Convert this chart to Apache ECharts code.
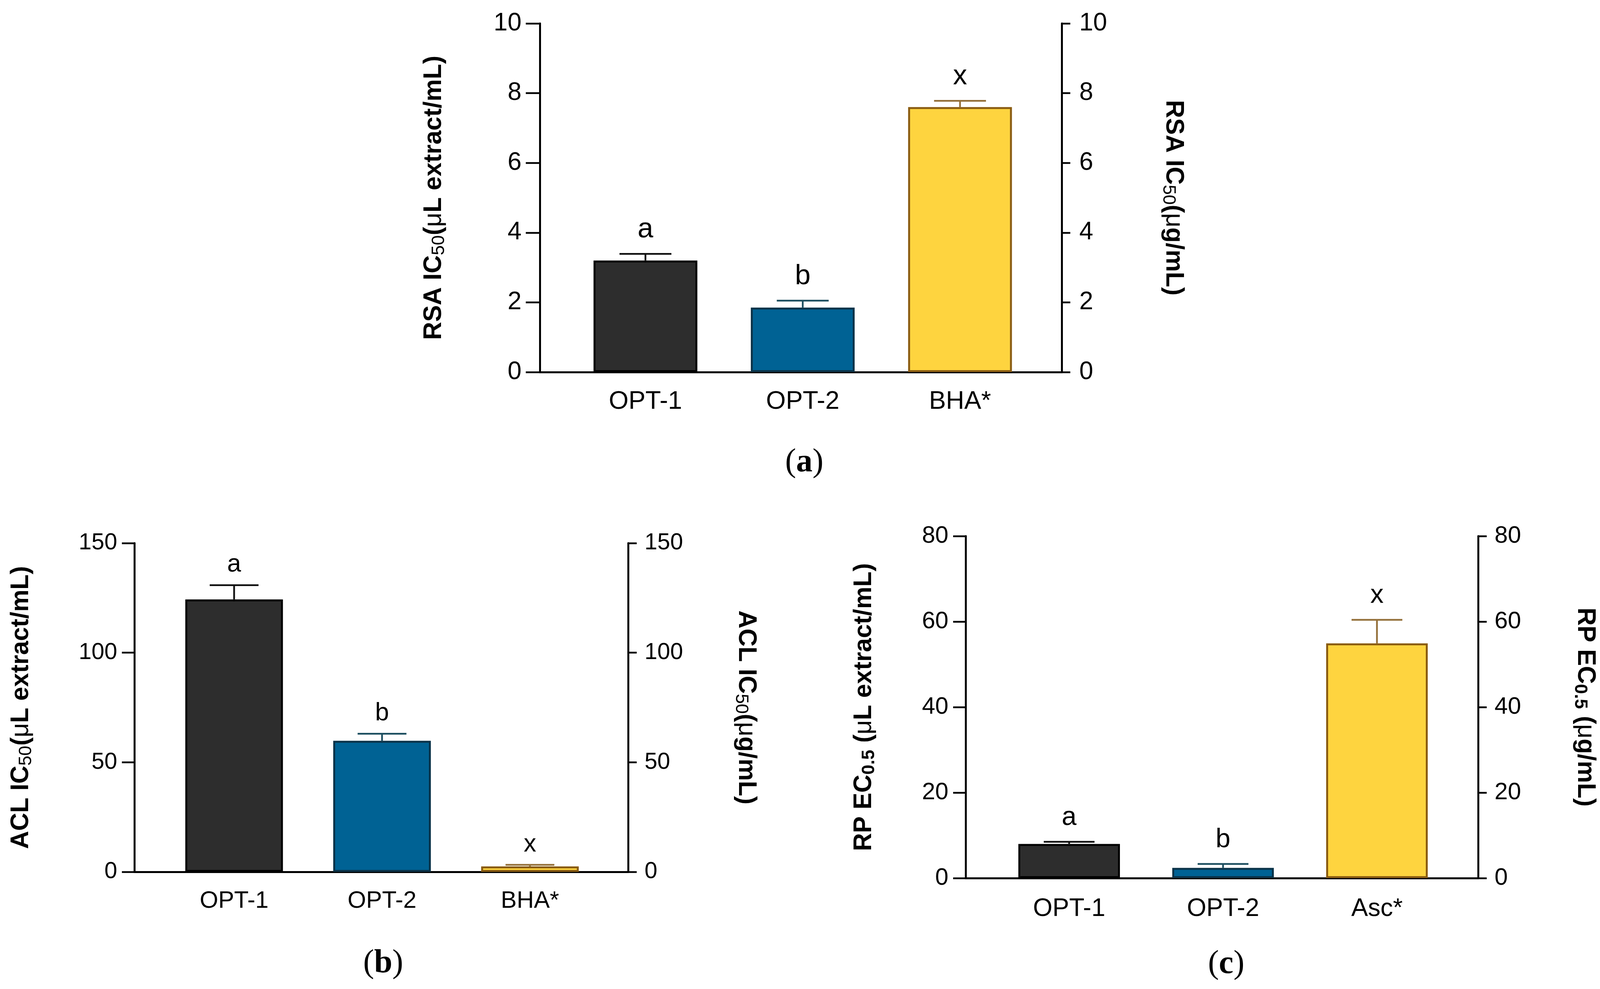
<!DOCTYPE html>
<html><head><meta charset="utf-8">
<script src="https://cdn.jsdelivr.net/npm/echarts@6/dist/echarts.min.js"></script>
<style>html,body{margin:0;padding:0;background:#fff}#c{width:4121px;height:2533px}</style>
</head><body><div id="c"></div>
<script>
// ---------- DATA ----------
const catsA = ['OPT-1', 'OPT-2', 'BHA*'];
const meansA = [3.2, 1.85, 7.6];
const errsA = [0.19, 0.2, 0.18];
const lettersA = ['a', 'b', 'x'];
const ticksA = [0, 2, 4, 6, 8, 10];

const catsB = ['OPT-1', 'OPT-2', 'BHA*'];
const meansB = [124.3, 59.8, 2.5];
const errsB = [6.5, 3.2, 0.7];
const lettersB = ['a', 'b', 'x'];
const ticksB = [0, 50, 100, 150];

const catsC = ['OPT-1', 'OPT-2', 'Asc*'];
const meansC = [8.0, 2.4, 54.9];
const errsC = [0.5, 0.9, 5.5];
const lettersC = ['a', 'b', 'x'];
const ticksC = [0, 20, 40, 60, 80];

// ---------- STYLE ----------
const FONT = 'Liberation Sans';
const fills = ['#2d2d2d', '#006294', '#fed43f'];
const borders = ['#000000', '#0b3349', '#8a5c12'];
const errColors = ['#111111', '#1d4f60', '#94703a'];

const panels = [
  { cats: catsA, means: meansA, errs: errsA, letters: lettersA, ticks: ticksA,
    box: { left: 1382, top: 60, width: 1336, height: 893 }, barLeft: 1451, barWidth: 1208,
    tickFont: 64, tickL: 36, marginL: 47, tickR: 22, marginR: 45,
    catFont: 65, catMargin: 44, letterFont: 72, letterGap: 62,
    nameL: ['RSA IC', '50', '(μL extract/mL)'], nameR: ['RSA IC', '50', '(μg/mL)'], subWeight: 'normal',
    gapL: 235, gapR: 250, tag: ['a', 2059, 1185] },
  { cats: catsB, means: meansB, errs: errsB, letters: lettersB, ticks: ticksB,
    box: { left: 344, top: 1391, width: 1264, height: 842 }, barLeft: 410, barWidth: 1136,
    tickFont: 59, tickL: 32, marginL: 44, tickR: 22, marginR: 42,
    catFont: 61, catMargin: 45, letterFont: 64, letterGap: 52,
    nameL: ['ACL IC', '50', '(μL extract/mL)'], nameR: ['ACL IC', '50', '(μg/mL)'], subWeight: 'normal',
    gapL: 254, gapR: 266, tag: ['b', 981, 2468] },
  { cats: catsC, means: meansC, errs: errsC, letters: lettersC, ticks: ticksC,
    box: { left: 2472, top: 1373, width: 1312, height: 876 }, barLeft: 2540, barWidth: 1182,
    tickFont: 61, tickL: 32, marginL: 44, tickR: 22, marginR: 42,
    catFont: 64, catMargin: 47, letterFont: 68, letterGap: 62,
    nameL: ['RP EC', '0.5', ' (μL extract/mL)'], nameR: ['RP EC', '0.5', ' (μg/mL)'], subWeight: 'bold',
    gapL: 224, gapR: 238, tag: ['c', 3139, 2470] }
];

function richName(parts) {
  const esc = s => s.split('μ').map(x => x ? '{t|' + x + '}' : '').join('{u|μ}');
  return esc(parts[0]) + '{s|' + parts[1] + '}' + esc(parts[2]);
}
function nameStyle(p) {
  return {
    color: '#000', fontFamily: FONT, fontWeight: 'bold', fontSize: 64,
    rich: {
      t: { fontFamily: FONT, fontWeight: 'bold', fontSize: 64, lineHeight: 72, color: '#000' },
      u: { fontFamily: FONT, fontWeight: 'normal', fontSize: 64, lineHeight: 72, color: '#000' },
      s: { fontFamily: FONT, fontWeight: p.subWeight, fontSize: 46, lineHeight: 34, verticalAlign: 'bottom', color: '#000' }
    }
  };
}

const option = { animation: false, backgroundColor: '#ffffff', grid: [], xAxis: [], yAxis: [], series: [], graphic: [] };

panels.forEach(p => {
  const g = option.grid.length;
  option.grid.push({ left: p.box.left, top: p.box.top, width: p.box.width, height: p.box.height, containLabel: false, outerBoundsMode: 'none' });
  option.grid.push({ left: p.barLeft, top: p.box.top, width: p.barWidth, height: p.box.height, containLabel: false, outerBoundsMode: 'none' });
  const ymin = p.ticks[0], ymax = p.ticks[p.ticks.length - 1], step = p.ticks[1] - p.ticks[0];
  const xi = option.xAxis.length;
  option.xAxis.push({ gridIndex: g, type: 'value', min: 0, max: 1, axisLine: { show: true, onZero: false, lineStyle: { color: '#000', width: 5 } },
    axisTick: { show: false }, axisLabel: { show: false }, splitLine: { show: false } });
  option.xAxis.push({ gridIndex: g + 1, type: 'category', data: p.cats, axisLine: { show: false }, axisTick: { show: false },
    axisLabel: { interval: 0, color: '#000', fontFamily: FONT, fontSize: p.catFont, lineHeight: p.catFont, margin: p.catMargin }, splitLine: { show: false } });
  const yi = option.yAxis.length;
  const yCommon = { gridIndex: g, type: 'value', min: ymin, max: ymax, interval: step, splitLine: { show: false },
    axisLine: { show: true, lineStyle: { color: '#000', width: 5 } }, nameLocation: 'middle', nameTextStyle: nameStyle(p) };
  option.yAxis.push(Object.assign({}, yCommon, { position: 'left',
    axisTick: { show: true, length: p.tickL, lineStyle: { color: '#000', width: 4.5 } },
    axisLabel: { color: '#000', fontFamily: FONT, fontSize: p.tickFont, margin: p.marginL },
    name: richName(p.nameL), nameGap: p.gapL }));
  option.yAxis.push(Object.assign({}, yCommon, { position: 'right',
    axisTick: { show: true, length: p.tickR, lineStyle: { color: '#000', width: 4.5 } },
    axisLabel: { color: '#000', fontFamily: FONT, fontSize: p.tickFont, margin: p.marginR },
    name: richName(p.nameR), nameGap: p.gapR, nameRotate: -90 }));
  option.yAxis.push({ gridIndex: g + 1, type: 'value', min: ymin, max: ymax, show: false });

  option.series.push({ type: 'bar', xAxisIndex: xi + 1, yAxisIndex: yi + 2, barWidth: '66%',
    data: p.means.map((v, i) => ({ value: v, itemStyle: { color: fills[i], borderColor: borders[i], borderWidth: 5 } })) });

  const letters = p.letters;
  option.series.push({ type: 'custom', xAxisIndex: xi + 1, yAxisIndex: yi + 2, z: 5,
    data: p.means.map((v, i) => [i, v, p.errs[i]]),
    encode: { x: 0, y: 1 },
    renderItem: function (params, api) {
      const i = api.value(0), m = api.value(1), e = api.value(2);
      const base = api.coord([i, m]);
      const top = api.coord([i, m + e]);
      const cap = api.size([1, 0])[0] * 0.66 * 0.5;
      const c = errColors[i];
      return { type: 'group', children: [
        { type: 'line', shape: { x1: base[0], y1: base[1], x2: top[0], y2: top[1] }, style: { stroke: c, lineWidth: 4.5 } },
        { type: 'line', shape: { x1: top[0] - cap / 2, y1: top[1], x2: top[0] + cap / 2, y2: top[1] }, style: { stroke: c, lineWidth: 4.5 } },
        { type: 'text', x: top[0], y: top[1] - p.letterGap,
          style: { text: letters[i], fill: '#000', fontFamily: FONT, fontSize: p.letterFont, align: 'center', verticalAlign: 'middle' } }
      ] };
    }
  });

  option.graphic.push({ type: 'text', x: p.tag[1], y: p.tag[2], z: 10,
    style: { text: '{p|(}{b|' + p.tag[0] + '}{p|)}', align: 'center', verticalAlign: 'middle',
      rich: { p: { fontFamily: 'Liberation Serif', fontSize: 84, fill: '#000', color: '#000' },
              b: { fontFamily: 'Liberation Serif', fontWeight: 'bold', fontSize: 84, fill: '#000', color: '#000' } } } });
});

const chart = echarts.init(document.getElementById('c'));
chart.setOption(option);
</script>
</body></html>
